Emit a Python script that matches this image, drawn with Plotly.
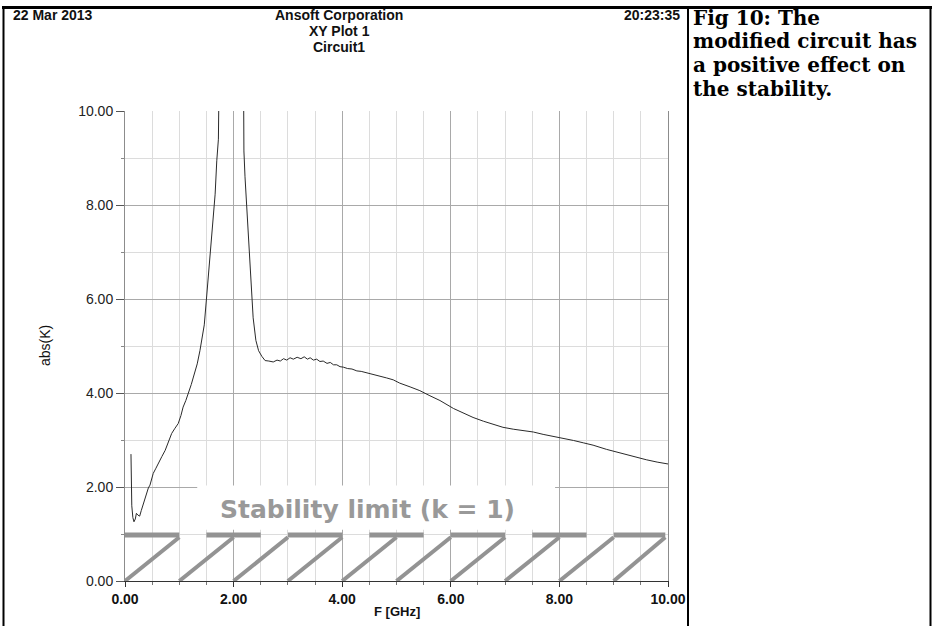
import plotly.graph_objects as go

# ---- data ----
freq_ghz = [0.11, 0.115, 0.125, 0.145, 0.165, 0.19, 0.21, 0.24, 0.27, 0.30, 0.34, 0.37, 0.40, 0.43,
            0.46, 0.49, 0.52, 0.57, 0.63, 0.68, 0.74, 0.80, 0.86, 0.92, 0.98, 1.03, 1.07, 1.12,
            1.17, 1.22, 1.26, 1.33, 1.38, 1.42, 1.46, 1.50, 1.55, 1.60, 1.66, 1.69, 1.72, 1.74,
            1.95, 2.18, 2.19, 2.21, 2.24, 2.29, 2.33, 2.36, 2.41, 2.46, 2.52, 2.58, 2.65, 2.73,
            2.80, 2.86, 2.92, 2.98, 3.04, 3.10, 3.17, 3.24, 3.30, 3.36, 3.41, 3.47, 3.53, 3.59,
            3.65, 3.72, 3.78, 3.84, 3.90, 3.96, 4.02, 4.10, 4.18, 4.27, 4.35, 4.45, 4.57, 4.70,
            4.82, 4.94, 5.06, 5.25, 5.43, 5.60, 5.80, 6.05, 6.22, 6.41, 6.60, 6.78, 6.96, 7.15,
            7.33, 7.52, 7.70, 7.89, 8.07, 8.26, 8.44, 8.62, 8.87, 9.10, 9.35, 9.60, 9.80, 10.0]
abs_k = [2.70, 2.10, 1.60, 1.35, 1.26, 1.32, 1.44, 1.40, 1.38, 1.50, 1.65, 1.75, 1.86, 1.98,
         2.04, 2.18, 2.29, 2.40, 2.55, 2.65, 2.78, 2.97, 3.14, 3.25, 3.35, 3.52, 3.70, 3.84,
         3.99, 4.18, 4.34, 4.62, 4.90, 5.15, 5.45, 6.00, 6.65, 7.38, 8.23, 8.94, 9.40, 11.5,
         30.0, 11.5, 9.15, 8.60, 7.95, 6.96, 5.97, 5.60, 5.12, 4.90, 4.78, 4.69, 4.68, 4.66,
         4.70, 4.68, 4.73, 4.70, 4.75, 4.72, 4.76, 4.73, 4.77, 4.72, 4.75, 4.70, 4.72, 4.67,
         4.68, 4.63, 4.65, 4.60, 4.60, 4.56, 4.55, 4.52, 4.51, 4.47, 4.46, 4.43, 4.41, 4.36,
         4.32, 4.28, 4.21, 4.13, 4.05, 3.95, 3.84, 3.67, 3.58, 3.48, 3.40, 3.33, 3.27, 3.23,
         3.20, 3.17, 3.12, 3.08, 3.04, 2.99, 2.94, 2.89, 2.80, 2.73, 2.65, 2.58, 2.53, 2.49]

# stability-limit hatch marks (k = 1)
limit_bar_start = [0.0, 1.5, 3.0, 4.5, 6.0, 7.5, 9.0]
limit_bar_end = [1.0, 2.5, 4.0, 5.5, 7.0, 8.5, 9.95]
limit_level = 0.98
diag_start = [0, 1, 2, 3, 4, 5, 6, 7, 8, 9]
diag_end = [1, 2, 3, 4, 5, 6, 7, 8, 9, 9.95]
diag_top = 0.93

limit_label = "Stability limit (k = 1)"
limit_label_x = 4.47
limit_label_y = 1.53
limit_box_x = [1.33, 7.92]
limit_box_y = [1.09, 2.03]

x_tick_vals = [0, 2, 4, 6, 8, 10]
y_tick_vals = [0, 2, 4, 6, 8, 10]

header_date = "22 Mar 2013"
header_company = "Ansoft Corporation"
header_plot = "XY Plot 1"
header_circuit = "Circuit1"
header_time = "20:23:35"
caption_lines = ["Fig 10: The", "modified circuit has", "a positive effect on", "the stability."]

# ---- figure ----
W, H = 932, 626
L, R, T, B = 125, 668, 111, 581
pw, ph = R - L, B - T


def px(x):  # picture x pixel -> paper
    return (x - L) / pw


def py(y):  # picture y pixel -> paper
    return (B - y) / ph


fig = go.Figure()

bx, by = [], []
for s, e in zip(limit_bar_start, limit_bar_end):
    bx += [s, e, None]
    by += [limit_level, limit_level, None]
fig.add_trace(go.Scatter(x=bx, y=by, mode="lines", line=dict(color="#939393", width=5),
                         hoverinfo="skip", showlegend=False, cliponaxis=False))
dx, dy = [], []
for s, e in zip(diag_start, diag_end):
    dx += [s, e, None]
    dy += [0, diag_top, None]
fig.add_trace(go.Scatter(x=dx, y=dy, mode="lines", line=dict(color="#939393", width=4),
                         hoverinfo="skip", showlegend=False))

fig.add_trace(go.Scatter(x=freq_ghz, y=abs_k, mode="lines",
                         line=dict(color="#2a2a2a", width=1), showlegend=False))

shapes = [
    dict(type="rect", xref="x", yref="y", x0=limit_box_x[0], x1=limit_box_x[1],
         y0=limit_box_y[0], y1=limit_box_y[1], fillcolor="white", line=dict(width=0), layer="between"),
    # page frame
    dict(type="line", xref="paper", yref="paper", x0=px(2), x1=px(932), y0=py(7.5), y1=py(7.5),
         line=dict(color="black", width=3)),
    dict(type="line", xref="paper", yref="paper", x0=px(3.5), x1=px(3.5), y0=py(7), y1=py(626),
         line=dict(color="black", width=2)),
    dict(type="line", xref="paper", yref="paper", x0=px(688), x1=px(688), y0=py(7), y1=py(626),
         line=dict(color="black", width=2)),
    dict(type="line", xref="paper", yref="paper", x0=px(930.5), x1=px(930.5), y0=py(7), y1=py(626),
         line=dict(color="black", width=2)),
]

hdr_font = dict(family="Liberation Sans, Arial, sans-serif", size=14, color="#111", weight="bold")
annotations = [
    dict(text=limit_label, x=limit_label_x, y=limit_label_y, xref="x", yref="y", showarrow=False,
         font=dict(family="DejaVu Sans, Verdana, sans-serif", size=25, color="#999999", weight="bold")),
    dict(text=header_date, x=px(12), y=py(15), xref="paper", yref="paper", xanchor="left",
         yanchor="middle", showarrow=False, borderpad=0, font=hdr_font),
    dict(text=header_company, x=px(339), y=py(14.8), xref="paper", yref="paper", xanchor="center",
         yanchor="middle", showarrow=False, borderpad=0, font=hdr_font),
    dict(text=header_plot, x=px(339), y=py(31), xref="paper", yref="paper", xanchor="center",
         yanchor="middle", showarrow=False, borderpad=0, font=hdr_font),
    dict(text=header_circuit, x=px(339), y=py(47.2), xref="paper", yref="paper", xanchor="center",
         yanchor="middle", showarrow=False, borderpad=0, font=hdr_font),
    dict(text=header_time, x=px(681), y=py(15), xref="paper", yref="paper", xanchor="right",
         yanchor="middle", showarrow=False, borderpad=0, font=hdr_font),
    dict(text="abs(K)", x=px(45), y=0.5, xref="paper", yref="paper", textangle=-90,
         xanchor="center", yanchor="middle", showarrow=False,
         font=dict(family="Liberation Sans, Arial, sans-serif", size=14, color="#111")),
    dict(text="F [GHz]", x=0.5, y=py(611), xref="paper", yref="paper", xanchor="center",
         yanchor="middle", showarrow=False,
         font=dict(family="Liberation Sans, Arial, sans-serif", size=13, color="#111", weight="bold")),
]
for i, line in enumerate(caption_lines):
    annotations.append(dict(text=line, x=px(692), y=py(18 + 23.5 * i), xref="paper", yref="paper",
                            xanchor="left", yanchor="middle", showarrow=False, borderpad=0,
                            font=dict(family="DejaVu Serif, serif", size=20,
                                      color="black", weight="bold")))

fig.update_layout(
    width=W, height=H, margin=dict(l=L, r=W - R, t=T, b=H - B),
    paper_bgcolor="white", plot_bgcolor="white",
    shapes=shapes, annotations=annotations, showlegend=False,
    xaxis=dict(range=[0, 10], tickvals=x_tick_vals, tickformat=".2f", showgrid=True,
               gridcolor="#a9a9a9", gridwidth=1, zeroline=False, showline=True, linecolor="#333",
               linewidth=1, ticks="outside", ticklen=5, tickcolor="#333",
               tickfont=dict(family="Liberation Sans, Arial, sans-serif", size=14, color="#111",
                             weight="bold"),
               minor=dict(dtick=0.5, showgrid=True, gridcolor="#dcdcdc", ticks="outside",
                          ticklen=3, tickcolor="#777")),
    yaxis=dict(range=[0, 10], tickvals=y_tick_vals, tickformat=".2f", showgrid=True,
               gridcolor="#a9a9a9", gridwidth=1, zeroline=False, showline=True, linecolor="#8c8c8c",
               linewidth=1, mirror=True, ticks="outside", ticklen=8, tickcolor="#555",
               tickfont=dict(family="Liberation Sans, Arial, sans-serif", size=14, color="#222"),
               minor=dict(dtick=1, showgrid=True, gridcolor="#dcdcdc", ticks="outside",
                          ticklen=3, tickcolor="#888")),
)

fig.write_html("out.html", config={"displayModeBar": False},
               post_script="document.body.style.margin='0px';")
